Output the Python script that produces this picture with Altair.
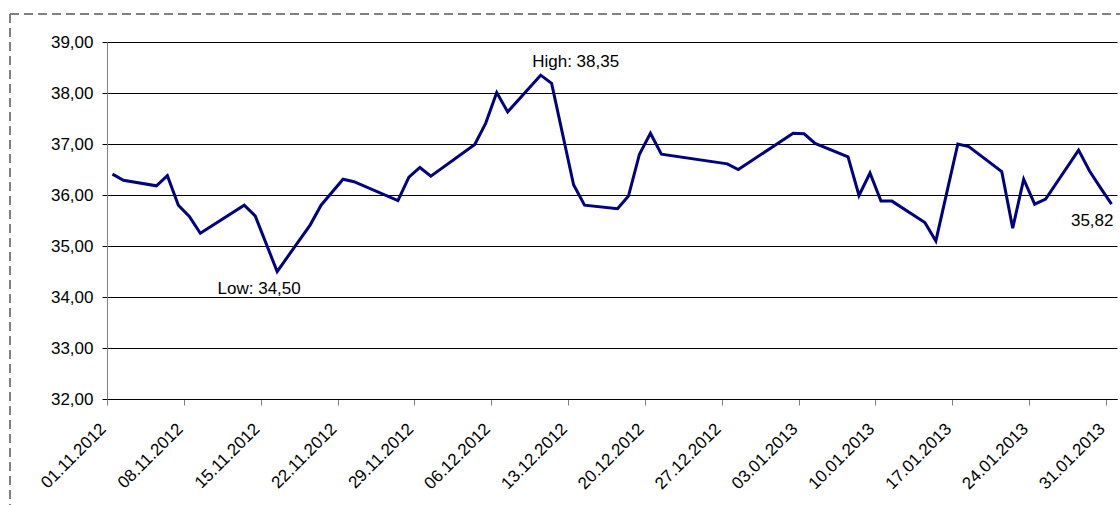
import altair as alt
import pandas as pd

# ---- data ----
dates = [
    "2012-11-01", "2012-11-02", "2012-11-05", "2012-11-06", "2012-11-07", "2012-11-08",
    "2012-11-09", "2012-11-13", "2012-11-14", "2012-11-16", "2012-11-19", "2012-11-20",
    "2012-11-22", "2012-11-23", "2012-11-27", "2012-11-28", "2012-11-29", "2012-11-30",
    "2012-12-04", "2012-12-05", "2012-12-06", "2012-12-07", "2012-12-10", "2012-12-11",
    "2012-12-13", "2012-12-14", "2012-12-17", "2012-12-18", "2012-12-19", "2012-12-20",
    "2012-12-21", "2012-12-27", "2012-12-28", "2013-01-02", "2013-01-03", "2013-01-04",
    "2013-01-07", "2013-01-08", "2013-01-09", "2013-01-10", "2013-01-11", "2013-01-14",
    "2013-01-15", "2013-01-16", "2013-01-17", "2013-01-18", "2013-01-21", "2013-01-22",
    "2013-01-23", "2013-01-24", "2013-01-25", "2013-01-28", "2013-01-29", "2013-01-30",
    "2013-01-31",
]
prices = [
    36.41, 36.29, 36.18, 36.38, 35.80, 35.58,
    35.25, 35.80, 35.59, 34.50, 35.41, 35.80,
    36.31, 36.26, 35.89, 36.35, 36.54, 36.37,
    36.99, 37.41, 38.01, 37.63, 38.35, 38.19,
    36.20, 35.80, 35.73, 35.98, 36.80, 37.21,
    36.80, 36.61, 36.50, 37.21, 37.20, 37.01,
    36.75, 35.99, 36.43, 35.88, 35.88, 35.46,
    35.10, 36.05, 37.00, 36.95, 36.46, 35.35,
    36.31, 35.82, 35.92, 36.88, 36.47, 36.14,
    35.82,
]
tick_dates = [
    "2012-11-01", "2012-11-08", "2012-11-15", "2012-11-22", "2012-11-29", "2012-12-06",
    "2012-12-13", "2012-12-20", "2012-12-27", "2013-01-03", "2013-01-10", "2013-01-17",
    "2013-01-24", "2013-01-31",
]
domain_dates = ["2012-11-01", "2013-02-01"]
y_ticks = [32, 33, 34, 35, 36, 37, 38, 39]
annot_dates = ["2012-12-10", "2012-11-16", "2013-01-31"]
annot_values = [38.35, 34.50, 35.82]
annot_labels = ["High: 38,35", "Low: 34,50", "35,82"]

FONT = "Liberation Sans"
FS = 17


def to_dt(s):
    y, m, d = (int(p) for p in s.split("-"))
    return alt.DateTime(year=y, month=m, date=d)


# points sit in the middle of their day, as on an Excel date axis
df = pd.DataFrame({
    "date": pd.to_datetime(dates) + pd.Timedelta(hours=12),
    "price": prices,
})

x_scale = alt.Scale(domain=[to_dt(d) for d in domain_dates])
y_scale = alt.Scale(domain=[32, 39], nice=False, zero=False)

x_enc = alt.X(
    "date:T",
    scale=x_scale,
    axis=alt.Axis(
        values=[to_dt(d) for d in tick_dates],
        format="%d.%m.%Y",
        labelAngle=-45,
        labelAlign="right",
        labelBaseline="middle",
        labelPadding=21,
        labelOffset=-4,
        tickSize=6,
        tickColor="#808080",
        domainColor="#000000",
        grid=False,
        title=None,
        labelFont=FONT,
        labelFontSize=FS,
        labelColor="#000000",
    ),
)
y_enc = alt.Y(
    "price:Q",
    scale=y_scale,
    axis=alt.Axis(
        values=y_ticks,
        labelExpr="replace(format(datum.value, '.2f'), '.', ',')",
        grid=True,
        gridColor="#000000",
        gridWidth=1,
        domainColor="#808080",
        tickColor="#000000",
        tickSize=5,
        labelPadding=9,
        title=None,
        labelFont=FONT,
        labelFontSize=FS,
        labelColor="#000000",
    ),
)

line = alt.Chart(df).mark_line(color="#000080", strokeWidth=3, strokeJoin="miter").encode(
    x=x_enc, y=y_enc
)

annot_styles = [
    dict(dx=35, dy=-13, align="center"),
    dict(dx=-18, dy=17, align="center"),
    dict(dx=2, dy=17, align="right"),
]
texts = []
for d, v, lab, st in zip(annot_dates, annot_values, annot_labels, annot_styles):
    adf = pd.DataFrame({"date": [pd.to_datetime(d) + pd.Timedelta(hours=12)], "price": [v], "label": [lab]})
    texts.append(
        alt.Chart(adf).mark_text(
            font=FONT, fontSize=FS, color="#000000", baseline="middle", **st
        ).encode(x=alt.X("date:T", scale=x_scale), y=alt.Y("price:Q", scale=y_scale), text="label:N")
    )

border_top = alt.Chart(alt.Data(values=[{}])).mark_rule(
    color="#808080", strokeWidth=2, strokeDash=[9, 5]
).encode(x=alt.value(-97), x2=alt.value(1030), y=alt.value(-28))
border_left = alt.Chart(alt.Data(values=[{}])).mark_rule(
    color="#808080", strokeWidth=2, strokeDash=[9, 5]
).encode(x=alt.value(-97), y=alt.value(-28), y2=alt.value(480))

chart = alt.layer(border_top, border_left, line, *texts).properties(
    width=1010,
    height=357,
    autosize=alt.AutoSizeParams(type="none"),
    padding={"left": 107, "top": 42, "right": 3, "bottom": 106},
    background="#ffffff",
).configure_view(stroke=None)

chart.save("out.html", embed_options={"renderer": "svg", "actions": False})
